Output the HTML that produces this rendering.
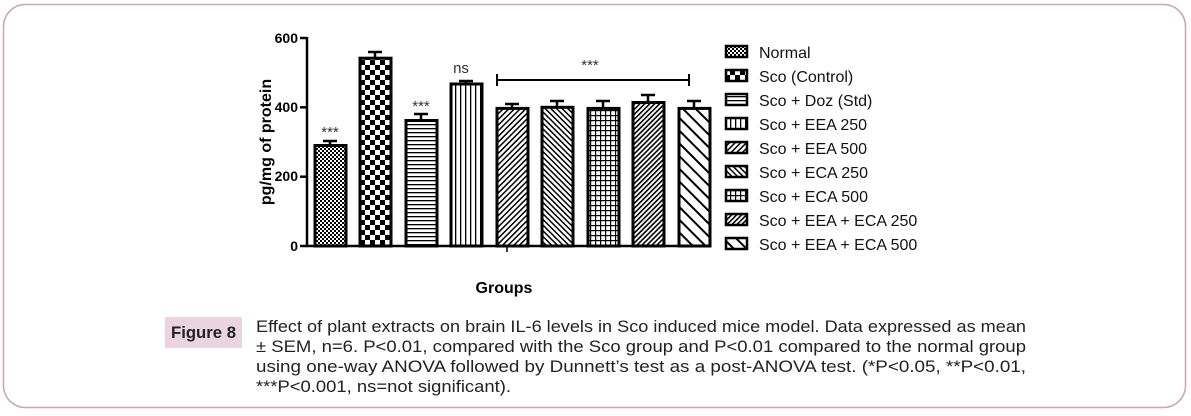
<!DOCTYPE html>
<html><head><meta charset="utf-8"><style>body{margin:0;background:#fff}svg{display:block}</style></head><body>
<svg width="1191" height="416" xmlns="http://www.w3.org/2000/svg" font-family="Liberation Sans, Arial, sans-serif">
<defs>
<pattern id="p1" width="4" height="4" patternUnits="userSpaceOnUse"><rect width="4" height="4" fill="#fff"/><rect width="2" height="2" fill="#000"/><rect x="2" y="2" width="2" height="2" fill="#000"/></pattern>
<pattern id="p2" width="10" height="10" patternUnits="userSpaceOnUse"><rect width="10" height="10" fill="#fff"/><rect width="5" height="5" fill="#000"/><rect x="5" y="5" width="5" height="5" fill="#000"/></pattern>
<pattern id="p3" width="4" height="4" patternUnits="userSpaceOnUse"><rect width="4" height="4" fill="#fff"/><rect width="4" height="1.3" fill="#000"/></pattern>
<pattern id="p4" width="5" height="5" patternUnits="userSpaceOnUse"><rect width="5" height="5" fill="#fff"/><rect width="1.3" height="5" fill="#000"/></pattern>
<pattern id="p5" width="4" height="4" patternUnits="userSpaceOnUse" patternTransform="rotate(45)"><rect width="4" height="4" fill="#fff"/><rect width="1.5" height="4" fill="#000"/></pattern>
<pattern id="p6" width="4" height="4" patternUnits="userSpaceOnUse" patternTransform="rotate(-45)"><rect width="4" height="4" fill="#fff"/><rect width="1.5" height="4" fill="#000"/></pattern>
<pattern id="p7" width="5" height="5" patternUnits="userSpaceOnUse"><rect width="5" height="5" fill="#fff"/><rect width="1.2" height="5" fill="#000"/><rect width="5" height="1.2" fill="#000"/></pattern>
<pattern id="p8" width="3.5" height="3.5" patternUnits="userSpaceOnUse" patternTransform="rotate(45)"><rect width="3.5" height="3.5" fill="#fff"/><rect width="1.6" height="3.5" fill="#000"/></pattern>
<pattern id="p9" width="9" height="9" patternUnits="userSpaceOnUse" patternTransform="rotate(-45)"><rect width="9" height="9" fill="#fff"/><rect width="2" height="9" fill="#000"/></pattern>
</defs>
<rect x="3.5" y="4.5" width="1182" height="403" rx="22" fill="none" stroke="#c9a5b8" stroke-width="1.5"/>
<g stroke="#000" stroke-width="2.5" fill="none">
<line x1="307" y1="37" x2="307" y2="247"/>
<line x1="306" y1="246" x2="707" y2="246"/>
<line x1="300" y1="38" x2="307" y2="38"/><line x1="300" y1="107.3" x2="307" y2="107.3"/><line x1="300" y1="176.7" x2="307" y2="176.7"/><line x1="300" y1="246" x2="307" y2="246"/>
<line x1="507" y1="246" x2="507" y2="252" stroke-width="1.5"/>
</g>
<g font-size="14" font-weight="bold" text-anchor="end">
<text x="298" y="43">600</text><text x="298" y="112">400</text><text x="298" y="181">200</text><text x="298" y="251">0</text>
</g>
<text transform="translate(271,142) rotate(-90)" font-size="16" font-weight="bold" text-anchor="middle">pg/mg of protein</text>
<text x="504" y="293" font-size="16" font-weight="bold" text-anchor="middle">Groups</text>
<g stroke="#000" stroke-width="3">
<rect x="315" y="145.5" width="31" height="100.5" fill="url(#p1)"/>
<rect x="360" y="58.2" width="31" height="187.8" fill="url(#p2)"/>
<rect x="406" y="120.5" width="31" height="125.5" fill="url(#p3)"/>
<rect x="451" y="84" width="31" height="162" fill="url(#p4)"/>
<rect x="497" y="108.4" width="31" height="137.6" fill="url(#p5)"/>
<rect x="542" y="107.3" width="31" height="138.7" fill="url(#p6)"/>
<rect x="588" y="108.4" width="31" height="137.6" fill="url(#p7)"/>
<rect x="633" y="102.5" width="31" height="143.5" fill="url(#p8)"/>
<rect x="679" y="108.4" width="31" height="137.6" fill="url(#p9)"/>
</g>
<g stroke="#000" stroke-width="2.5" fill="none">
<path d="M330 145V141M323 141H337"/>
<path d="M375 58V52M368 52H382"/>
<path d="M421 120V114M414 114H428"/>
<path d="M466 84V81M459 81H473"/>
<path d="M512 108V104M505 104H519"/>
<path d="M557 107V101M550 101H564"/>
<path d="M603 108V101M596 101H610"/>
<path d="M648 102V95M641 95H655"/>
<path d="M694 108V101M687 101H701"/>
<path d="M497 74V86M497 80H689M689 74V86" stroke-width="2"/>
</g>
<g font-size="15" text-anchor="middle" fill="#333">
<text x="330" y="137">***</text><text x="421" y="111">***</text><text x="461" y="73">ns</text><text x="590" y="70">***</text>
</g>
<g stroke="#000" stroke-width="2.5">
<rect x="726" y="46" width="21" height="11" fill="url(#p1)"/>
<rect x="726" y="70" width="21" height="11" fill="url(#p2)"/>
<rect x="726" y="94" width="21" height="11" fill="url(#p3)"/>
<rect x="726" y="118" width="21" height="11" fill="url(#p4)"/>
<rect x="726" y="142" width="21" height="11" fill="url(#p5)"/>
<rect x="726" y="166" width="21" height="11" fill="url(#p6)"/>
<rect x="726" y="190" width="21" height="11" fill="url(#p7)"/>
<rect x="726" y="214" width="21" height="11" fill="url(#p8)"/>
<rect x="726" y="238" width="21" height="11" fill="url(#p9)"/>
</g>
<g font-size="16" fill="#111">
<text x="759" y="58">Normal</text><text x="759" y="82">Sco (Control)</text><text x="759" y="106">Sco + Doz (Std)</text><text x="759" y="130">Sco + EEA 250</text><text x="759" y="154">Sco + EEA 500</text><text x="759" y="178">Sco + ECA 250</text><text x="759" y="202">Sco + ECA 500</text><text x="759" y="226">Sco + EEA + ECA 250</text><text x="759" y="250">Sco + EEA + ECA 500</text>
</g>
<rect x="165" y="317" width="77" height="31" fill="#ead4df"/>
<text x="171" y="338" font-size="17" font-weight="bold" textLength="65" lengthAdjust="spacingAndGlyphs" fill="#222">Figure 8</text>
<g font-size="17" fill="#222">
<text x="256" y="332" textLength="770" lengthAdjust="spacingAndGlyphs">Effect of plant extracts on brain IL-6 levels in Sco induced mice model. Data expressed as mean</text>
<text x="256" y="352" textLength="770" lengthAdjust="spacingAndGlyphs">± SEM, n=6. P&lt;0.01, compared with the Sco group and P&lt;0.01 compared to the normal group</text>
<text x="256" y="372" textLength="770" lengthAdjust="spacingAndGlyphs">using one-way ANOVA followed by Dunnett’s test as a post-ANOVA test. (*P&lt;0.05, **P&lt;0.01,</text>
<text x="256" y="392" textLength="255" lengthAdjust="spacingAndGlyphs">***P&lt;0.001, ns=not significant).</text>
</g>
</svg>
</body></html>
